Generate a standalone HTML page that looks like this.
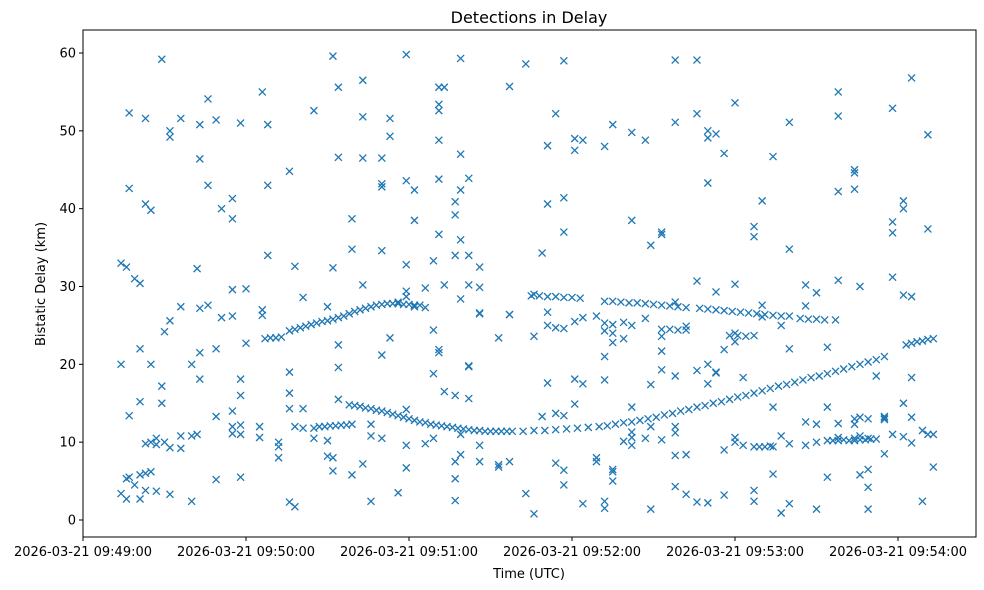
<!DOCTYPE html>
<html><head><meta charset="utf-8"><style>
body{margin:0;background:#fff;}
svg{display:block;font-family:"DejaVu Sans","Liberation Sans",sans-serif;}
</style></head><body>
<svg id="chart" width="984" height="590" viewBox="0 0 984 590" xmlns="http://www.w3.org/2000/svg">
<rect width="984" height="590" fill="#fff"/>
<text x="529" y="23" font-size="16" text-anchor="middle">Detections in Delay</text>
<g id="marks"></g>
<g id="axes"></g>
<rect x="83" y="30" width="893" height="507" fill="none" stroke="#000" stroke-width="1"/>
<text x="529" y="578" font-size="13" text-anchor="middle">Time (UTC)</text>
<text transform="translate(45,284) rotate(-90)" font-size="13" text-anchor="middle">Bistatic Delay (km)</text>
</svg>
<script>
const xTickSeconds=[0,60,120,180,240,300];
const xTickLabels=["2026-03-21 09:49:00","2026-03-21 09:50:00","2026-03-21 09:51:00","2026-03-21 09:52:00","2026-03-21 09:53:00","2026-03-21 09:54:00"];
const yTicks=[0,10,20,30,40,50,60];
const scatterTimes=[14,16,17,19,21,23,25,27,29,30,32,36,40,42,43,46,49,51,55,58,60,65,66,68,72,76,78,81,85,90,92,94,99,103,106,110,113,116,119,122,126,129,131,133,137,139,142,146,153,157,163,166,169,171,174,177,181,184,189,192,195,199,202,207,209,213,218,222,226,230,233,236,240,243,247,250,254,257,260,266,270,274,278,284,286,289,292,295,298,302,305,309,311,313];
const scatterDelays=[[3.4,20,33],[2.7,5.3,32.5],[52.3,42.6,13.4,5.5],[31,4.5],[30.4,15.2,22,2.7,5.8],[51.6,40.6,9.8,3.8,6],[39.8,10,6.2,20],[10.5,3.7,9.7],[59.2,17.2,15],[24.2,10],[50,49.2,25.6,9.3,3.3],[51.6,27.4,10.8,9.2],[20,10.8,2.4],[32.3,11],[50.8,46.4,27.2,21.5,18.1],[54.1,43,27.6],[51.4,13.3,5.2,22],[40,26],[41.3,38.7,29.6,26.2,14,11.1,12],[51,18.1,16,12.2,11,5.5],[29.7,22.7],[12,10.6],[55,27,26.3],[50.8,43,34],[9.4,10,8],[44.8,19,16.3,14.3,2.3],[32.6,1.7,12],[28.6,14.3,11.8],[52.6,11.8,10.5],[27.4,8.2,10.2],[59.6,32.4,8,6.3],[55.6,46.6,22.5,19.6,15.5],[5.8,38.7,34.8],[46.5,56.5,51.8,30.2,7.2],[12.3,10.8,2.4],[43.2,42.8,46.5,34.6,21.2,10.5],[51.6,49.3,23.4],[3.5,28],[59.8,43.6,32.8,28.7,29.4,14.2,9.6,6.7],[42.4,38.5,27.4],[29.8,27.3,9.8],[33.3,24.4,18.8,10.5],[55.6,53.4,52.6,48.8,43.8,36.7,21.5,21.9],[55.6,30.2,16.5],[39.2,40.9,34,7.5,5.3,2.5,16],[59.3,47,42.4,36,28.4,8.4,11],[43.9,34,30.2,19.7,19.8,15.6],[26.6,32.5,29.9,26.5,9.6,7.5],[23.4,7.1,6.8],[55.7,26.4,26.4,7.5],[58.6,3.4],[0.8,23.6,29],[34.3,13.3],[40.6,48.1,26.7,17.6,25],[52.2,24.7,7.3,13.7],[59,41.4,37,13.4,6.4,4.5,24.6],[49,47.5,25.5,14.9,18.1],[48.8,26,17.5,2.1],[8,7.5,26.2],[48,25.3,24.3,18,2.4,1.5,21],[50.8,25.1,24,22.8,6.2,6.5,5],[23.3,25.4,10.1],[49.8,38.5,25,14.5,9.6,10.6,11.3],[48.8,25.9,10.5],[35.3,17.4,12,1.4],[36.7,37,21.7,19.3,23.6,10.3],[59.1,51.1,28,18.5,12,11.2,4.3,8.3],[24.9,8.4,3.3],[59.1,52.2,30.7,2.3,19.2],[50,49.1,43.3,20,17.5,2.2],[49.6,29.3,18.9,19],[47.1,21.9,9,3.2],[53.6,30.3,24,22.9,10.6,10],[18.3,9.6],[37.7,36.4,23.7,3.8,2.4],[41,26.1,27.6],[46.7,14.5,9.4,5.9],[10.8,25,0.9],[51.1,34.8,9.8,22,2.1],[30.2,27.5,9.6,12.6],[29.2,12.3,1.4,10],[14.5,5.5,22.2],[55,51.9,42.2,30.8,12.4,10.6],[45,44.6,42.5,12.3,10.5,13],[30,5.8,10.8,13.2],[10.5,4.2,1.4,6.5,13],[18.5,10.4],[13.3,13.1,12.9,8.5],[52.9,31.2,38.3,36.9,11],[41,28.9,40,15,10.7],[56.8,28.7,18.3,13.2,9.9],[2.4,11.5],[37.4,49.5,11],[11,6.8]];
const lowerTrackTimes=[87,89,91,93,95,97,99,98,100,102,104,106,108,110,112,114,116,118,120,122,124,126,128,130,132,134,136,138,140,142,144,146,148,150,152,154,156,158,162,166,170,174,178,182,186,190,193,196,199,202,205,208,211,214,217,220,223,226,229,232,235,238,241,244,247,250,253,256,259,262,265,268,271,274,277,280,283,286,289,292,295,303,305,307,309,311,313];
const lowerTrackDelays=[12,12,12.1,12.1,12.2,12.2,12.3,14.8,14.7,14.6,14.4,14.3,14.1,14,13.8,13.6,13.4,13.2,13,12.8,12.6,12.5,12.3,12.2,12.1,12,11.9,11.8,11.7,11.6,11.5,11.5,11.4,11.4,11.4,11.4,11.4,11.4,11.4,11.5,11.5,11.6,11.7,11.8,11.9,12,12.1,12.3,12.5,12.6,12.8,13,13.2,13.5,13.7,14,14.2,14.5,14.7,15,15.2,15.5,15.8,16,16.3,16.6,16.9,17.2,17.4,17.7,18,18.3,18.5,18.8,19.1,19.4,19.7,20,20.3,20.6,21,22.5,22.7,22.9,23,23.2,23.3];
const upperTrackTimes=[67,69,71,73,76,78,80,82,84,86,88,90,92,94,96,98,100,102,104,106,108,110,112,114,116,118,120,122,124,165,168,171,174,177,180,183,192,195,198,201,204,207,210,213,216,219,222,227,230,233,236,239,242,245,248,251,254,257,260,264,267,270,273,277,213,216,219,222,238,241,244];
const upperTrackDelays=[23.3,23.4,23.4,23.5,24.3,24.5,24.7,24.9,25.1,25.3,25.5,25.6,25.8,26,26.2,26.5,26.8,27,27.2,27.4,27.6,27.7,27.8,27.8,27.8,27.7,27.7,27.6,27.6,28.8,28.8,28.7,28.7,28.6,28.6,28.5,28.1,28.1,28,27.9,27.9,27.8,27.7,27.6,27.5,27.4,27.3,27.2,27.1,27,26.9,26.8,26.7,26.6,26.5,26.4,26.3,26.2,26.2,25.9,25.8,25.8,25.7,25.7,24.5,24.5,24.4,24.4,23.7,23.7,23.6];
const extraTimes=[247,249,251,253,274,276,278,280,282,284,286,288,290];
const extraDelays=[9.4,9.4,9.4,9.5,10.2,10.2,10.2,10.3,10.2,10.2,10.3,10.3,10.4];

const NS="http://www.w3.org/2000/svg";
const L=83,R=976,T=30,B=537;
const xScale=s=>83+s*(163/60);
const yScale=d=>520-d*7.783;
const marks=document.getElementById('marks');
const axes=document.getElementById('axes');
function mk(tag,attrs){const e=document.createElementNS(NS,tag);for(const k in attrs)e.setAttribute(k,attrs[k]);return e;}
function marker(s,d){
  const x=xScale(s),y=yScale(d),h=3.5;
  const p=mk('path',{d:`M${x-h},${y-h}L${x+h},${y+h}M${x-h},${y+h}L${x+h},${y-h}`,stroke:'#1f77b4','stroke-width':1.3,fill:'none'});
  
  
  marks.appendChild(p);
}
scatterTimes.forEach((s,i)=>scatterDelays[i].forEach(d=>marker(s,d)));
lowerTrackTimes.forEach((s,i)=>marker(s,lowerTrackDelays[i]));
upperTrackTimes.forEach((s,i)=>marker(s,upperTrackDelays[i]));
extraTimes.forEach((s,i)=>marker(s,extraDelays[i]));
yTicks.forEach(v=>{
  const y=yScale(v);
  const l=mk('line',{x1:L-4,x2:L,y1:y,y2:y,stroke:'#000'});
  
  
  axes.appendChild(l);
  const t=mk('text',{x:L-7,y:y+4.5,'font-size':13,'text-anchor':'end'});
  t.textContent=v;
  
  
  axes.appendChild(t);
});
xTickSeconds.forEach((s,i)=>{
  const x=xScale(s);
  const l=mk('line',{x1:x,x2:x,y1:B,y2:B+4,stroke:'#000'});
  
  
  axes.appendChild(l);
  const t=mk('text',{x:x,y:B+19,'font-size':13,'text-anchor':'middle'});
  t.textContent=xTickLabels[i];
  
  
  axes.appendChild(t);
});
</script>
</body></html>
